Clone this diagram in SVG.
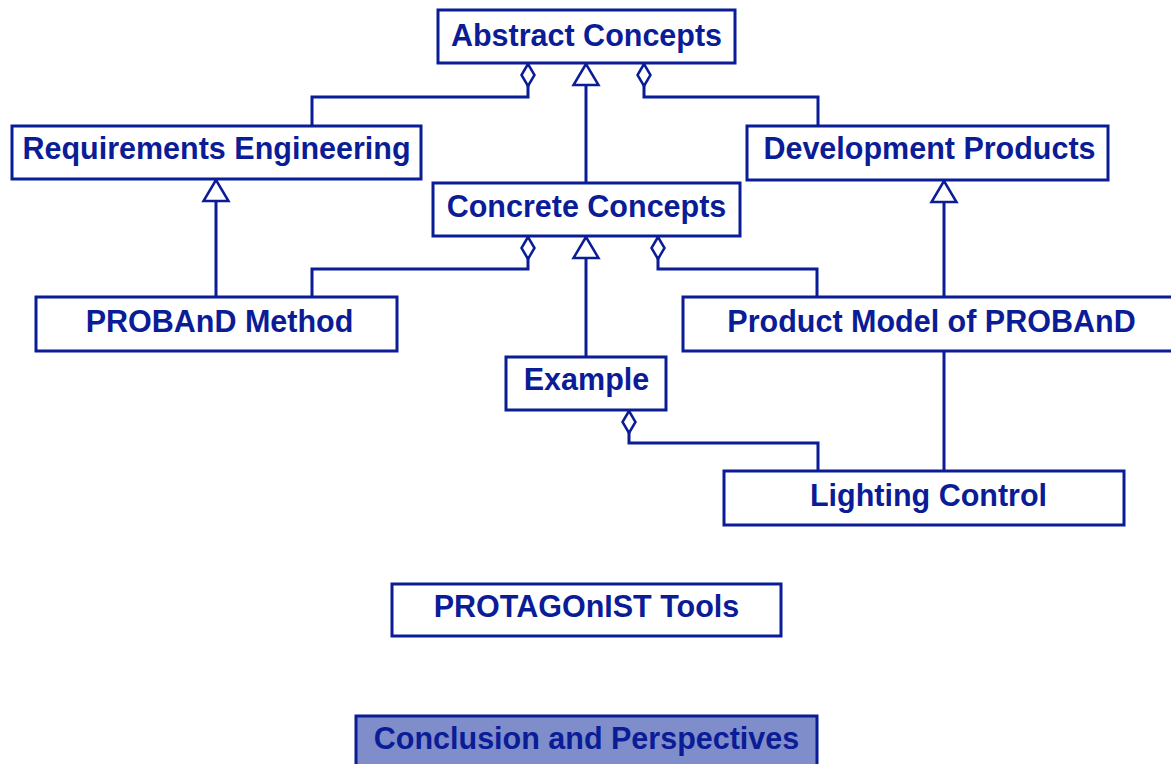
<svg xmlns="http://www.w3.org/2000/svg" width="1171" height="764" viewBox="0 0 1171 764">
<style>
.box{fill:#ffffff;stroke:#0a1c96;stroke-width:3}
.hl{fill:#7f8dcb}
.lbl{font-family:"Liberation Sans",Arial,sans-serif;font-weight:bold;font-size:30.5px;fill:#0a1c96;text-anchor:middle}
.con{fill:none;stroke:#0a1c96;stroke-width:3}
.agg{marker-end:url(#diamond)}
.gen{marker-end:url(#tri)}
</style>
<defs>
<marker id="diamond" markerUnits="userSpaceOnUse" markerWidth="30" markerHeight="20" refX="25" refY="10" orient="auto" overflow="visible">
<polygon points="25,10 14,3.5 3,10 14,16.5" fill="#ffffff" stroke="#0a1c96" stroke-width="2.5"/>
</marker>
<marker id="tri" markerUnits="userSpaceOnUse" markerWidth="30" markerHeight="30" refX="25" refY="15" orient="auto" overflow="visible">
<polygon points="25,15 4,2.5 4,27.5" fill="#ffffff" stroke="#0a1c96" stroke-width="2.5"/>
</marker>
</defs>
<rect width="1171" height="764" fill="#ffffff"/>
<g id="connectors">
<path class="con agg" d="M312,126 V97 H528 V64"/>
<path class="con agg" d="M818,126 V97 H644 V64"/>
<path class="con gen" d="M586,183 V64"/>
<path class="con gen" d="M216,297 V180"/>
<path class="con agg" d="M312,297 V269 H528 V237"/>
<path class="con agg" d="M817,297 V269 H658 V237"/>
<path class="con gen" d="M944,297 V181"/>
<path class="con gen" d="M586,357 V237"/>
<path class="con agg" d="M818,471 V443 H629 V411"/>
<path class="con" d="M944,351 V471"/>
</g>
<g id="abstract-concepts"><rect class="box" x="438" y="10" width="297" height="53"/><text class="lbl" x="586.5" y="46">Abstract Concepts</text></g>
<g id="requirements-engineering"><rect class="box" x="12" y="126" width="409" height="53"/><text class="lbl" x="216.5" y="159">Requirements Engineering</text></g>
<g id="development-products"><rect class="box" x="747" y="126" width="361" height="54"/><text class="lbl" x="929.5" y="159">Development Products</text></g>
<g id="concrete-concepts"><rect class="box" x="433" y="183" width="307" height="53"/><text class="lbl" x="586.5" y="217">Concrete Concepts</text></g>
<g id="proband-method"><rect class="box" x="36" y="297" width="361" height="54"/><text class="lbl" x="219.5" y="332">PROBAnD Method</text></g>
<g id="product-model"><rect class="box" x="683" y="297" width="500" height="54"/><text class="lbl" x="931.5" y="332">Product Model of PROBAnD</text></g>
<g id="example"><rect class="box" x="506" y="357" width="160" height="53"/><text class="lbl" x="586.5" y="390">Example</text></g>
<g id="lighting-control"><rect class="box" x="724" y="471" width="400" height="54"/><text class="lbl" x="928.5" y="506">Lighting Control</text></g>
<g id="protagonist-tools"><rect class="box" x="392" y="584" width="389" height="52"/><text class="lbl" x="586.5" y="617">PROTAGOnIST Tools</text></g>
<g id="conclusion"><rect class="box hl" x="356" y="716" width="461" height="60"/><text class="lbl" x="586.5" y="749">Conclusion and Perspectives</text></g>
</svg>
